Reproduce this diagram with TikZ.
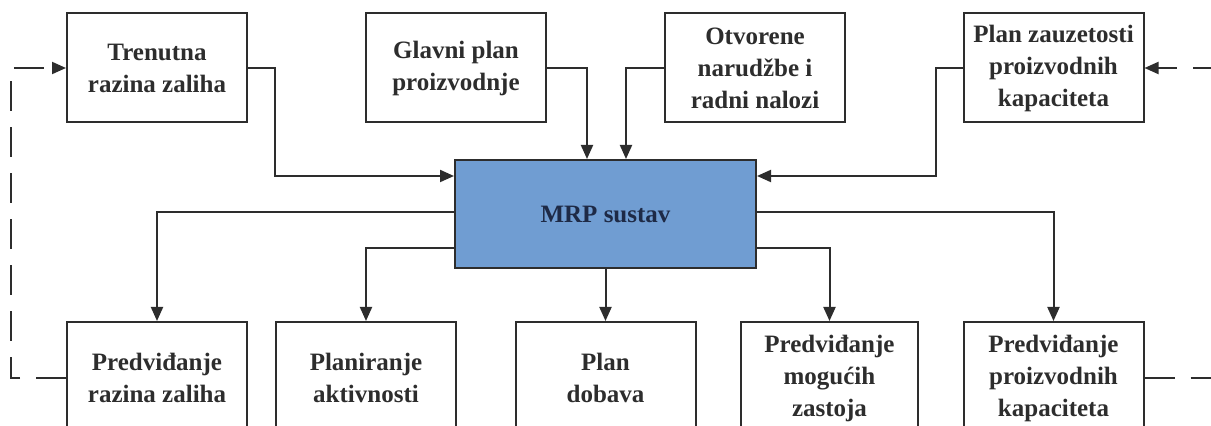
\documentclass[tikz,border=0pt]{standalone}
\usepackage{fontspec}
\setmainfont{Liberation Serif}
\usetikzlibrary{arrows.meta,calc}
\definecolor{lin}{RGB}{45,45,45}
\definecolor{mrpblue}{RGB}{112,157,210}
\definecolor{mrptext}{RGB}{30,42,70}
\tikzset{
  box/.style={draw=lin, line width=1pt, fill=white, inner sep=0pt, align=center,
    minimum width=90pt, font=\fontsize{12.5}{16}\selectfont\bfseries, text=lin},
  topbox/.style={box, minimum height=54.5pt},
  botbox/.style={box, minimum height=56pt},
  mrpbox/.style={box, fill=mrpblue, minimum width=150.5pt, minimum height=54pt, text=mrptext},
  conn/.style={draw=lin, line width=1pt, -{Triangle[length=7pt,width=6pt]}},
  plain/.style={draw=lin, line width=1pt},
  fb/.style={draw=lin, line width=1pt, dash pattern=on 15pt off 8pt}
}
\begin{document}
\begin{tikzpicture}[x=0.5pt,y=-0.5pt]
\useasboundingbox (0,0) rectangle (1211,426);
% top row
\node[topbox] (t1) at (157,68) {Trenutna\\razina zaliha};
\node[topbox] (t2) at (456,68) {Glavni plan\\proizvodnje};
\node[topbox] (t3) at (755,68) {Otvorene\\narudžbe i\\radni nalozi};
\node[topbox] (t4) at (1053.5,68) {Plan zauzetosti\\proizvodnih\\kapaciteta};
% MRP
\node[mrpbox] (mrp) at (605.5,214) {MRP sustav};
% bottom row
\node[botbox] (b1) at (157,378) {Predviđanje\\razina zaliha};
\node[botbox] (b2) at (366,378) {Planiranje\\aktivnosti};
\node[botbox] (b3) at (605.5,378) {Plan\\dobava};
\node[botbox, minimum width=88.5pt] (b4) at (829.5,378) {Predviđanje\\mogućih\\zastoja};
\node[botbox] (b5) at (1053.5,378) {Predviđanje\\proizvodnih\\kapaciteta};
% inputs
\draw[conn] (t1.east) -- ++(27,0) |- ($(mrp.north west)+(0,17)$);
\draw[conn] (t2.east) -| ($(mrp.north west)+(133,0)$);
\draw[conn] (t3.west) -| ($(mrp.north west)+(172,0)$);
\draw[conn] (t4.west) -- ++(-27,0) |- ($(mrp.north east)+(0,17)$);
% outputs
\draw[conn] ($(mrp.north west)+(0,53)$) -| (b1.north);
\draw[conn] ($(mrp.north west)+(0,89)$) -| (b2.north);
\draw[conn] (mrp.south) -- (b3.north);
\draw[conn] ($(mrp.north east)+(0,89)$) -| (b4.north);
\draw[conn] ($(mrp.north east)+(0,53)$) -| (b5.north);
% feedback loops
\draw[fb, -{Triangle[length=7pt,width=6pt]}] (b1.west) -- ++(-55,0) |- (t1.west);
\draw[fb, -{Triangle[length=7pt,width=6pt]}] (b5.east) -- ++(68,0) |- (t4.east);
\end{tikzpicture}
\end{document}
